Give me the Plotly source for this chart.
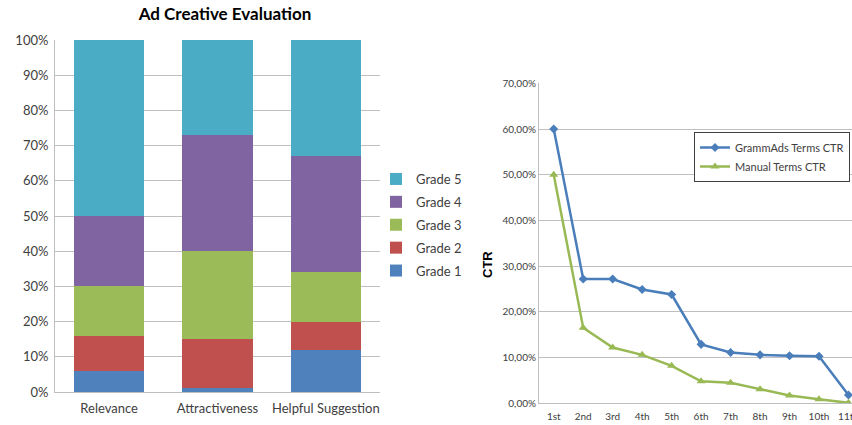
import plotly.graph_objects as go

# ---- Left chart data ----
criteria = ["Relevance", "Attractiveness", "Helpful Suggestion"]
grade_names = ["Grade 1", "Grade 2", "Grade 3", "Grade 4", "Grade 5"]
grade1 = [0.06, 0.01, 0.12]
grade2 = [0.10, 0.14, 0.08]
grade3 = [0.14, 0.25, 0.14]
grade4 = [0.20, 0.33, 0.33]
grade5 = [0.50, 0.27, 0.33]
grade_colors = ["#4F81BD", "#C0504D", "#9BBB59", "#8064A2", "#4BACC6"]

# ---- Right chart data ----
positions = ["1st", "2nd", "3rd", "4th", "5th", "6th", "7th", "8th", "9th", "10th", "11th"]
gramm_ctr = [0.600, 0.272, 0.272, 0.249, 0.238, 0.129, 0.111, 0.106, 0.104, 0.103, 0.018]
manual_ctr = [0.500, 0.165, 0.122, 0.106, 0.082, 0.048, 0.045, 0.031, 0.017, 0.009, 0.001]

W, H = 852, 425
def px(x):
    return x / W
def py(y):
    return (H - y) / H

FONT = "Lato"
TXT = "#404040"
GRID = "#BFBFBF"

fig = go.Figure()

n = len(grade_names)
for i, (name, vals, col) in enumerate(zip(grade_names, [grade1, grade2, grade3, grade4, grade5], grade_colors)):
    fig.add_trace(go.Bar(
        x=criteria, y=vals, name=name, marker=dict(color=col, line=dict(width=0)),
        xaxis="x", yaxis="y", legend="legend", legendgroup=name, legendrank=1000 - i,
    ))

fig.add_trace(go.Scatter(
    x=positions, y=gramm_ctr, name="GrammAds Terms CTR", mode="lines+markers",
    line=dict(color="#4A7EBB", width=2.5), marker=dict(symbol="diamond", size=7, color="#4A7EBB"),
    xaxis="x2", yaxis="y2", legend="legend2",
))
fig.add_trace(go.Scatter(
    x=positions, y=manual_ctr, name="Manual Terms CTR", mode="lines+markers",
    line=dict(color="#98B954", width=2.5), marker=dict(symbol="triangle-up", size=8, color="#98B954"),
    xaxis="x2", yaxis="y2", legend="legend2",
))

fig.update_layout(
    width=W, height=H,
    margin=dict(l=0, r=0, t=0, b=0, autoexpand=False),
    paper_bgcolor="white", plot_bgcolor="white",
    barmode="stack", bargap=0.35,
    separators=",.",
    font=dict(family=FONT, size=12, color=TXT),
    title=dict(text="<b>Ad Creative Evaluation</b>", x=px(225), xanchor="center",
               xref="paper", yref="container",
               y=py(14), yanchor="middle", font=dict(family=FONT, size=17, color="#000000")),
    xaxis=dict(domain=[px(55), px(380)], range=[-0.5, 2.5], showline=True, linecolor=GRID,
               showgrid=False, tickfont=dict(size=13, color=TXT), ticks="", automargin=False,
               ticklabelstandoff=4),
    yaxis=dict(domain=[py(392), py(40)], range=[0, 1], dtick=0.1, tickformat=".0%",
               showline=True, linecolor=GRID, gridcolor=GRID, gridwidth=1,
               tickfont=dict(size=13, color=TXT), zeroline=False, ticks="", automargin=False,
               ticklabelstandoff=3),
    xaxis2=dict(domain=[px(539), 1.0], range=[-0.5, 10.12], showline=True, linecolor=GRID,
                showgrid=False, tickfont=dict(size=10, color=TXT), ticks="", anchor="y2",
                automargin=False, ticklabelstandoff=4),
    yaxis2=dict(domain=[py(403.3), py(83.3)], range=[0, 0.70], dtick=0.1, tickformat=".2%",
                showline=True, linecolor=GRID, gridcolor=GRID, gridwidth=1,
                tickfont=dict(size=10, color=TXT), zeroline=False, ticks="", anchor="x2",
                automargin=False),
    legend=dict(x=px(376), y=py(164), xanchor="left", yanchor="top", traceorder="grouped",
                font=dict(size=13, color=TXT), bgcolor="rgba(0,0,0,0)", itemwidth=30,
                tracegroupgap=3),
    legend2=dict(x=px(694), y=py(132), xanchor="left", yanchor="top",
                 font=dict(size=11, color=TXT), bgcolor="white", bordercolor="#404040",
                 borderwidth=1, itemwidth=30, tracegroupgap=0),
    annotations=[dict(text="<b>CTR</b>", x=px(487), y=py(265), xref="paper", yref="paper",
                      textangle=-90, showarrow=False,
                      font=dict(family="Liberation Sans", size=13, color="#000000"))],
)

fig.write_html("out.html", config={"displayModeBar": False},
               post_script="document.body.style.margin='0';document.body.style.padding='0';")
